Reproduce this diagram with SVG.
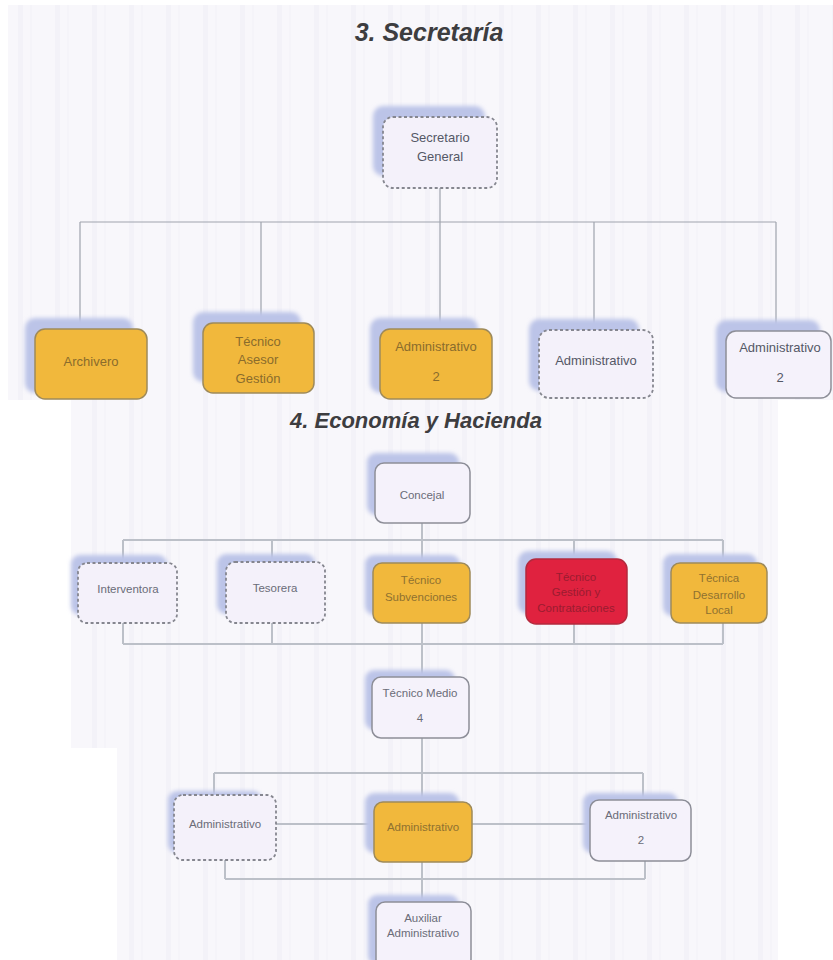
<svg xmlns="http://www.w3.org/2000/svg" width="833" height="960" viewBox="0 0 833 960">
<defs>
<pattern id="stripes" width="37" height="10" patternUnits="userSpaceOnUse">
<rect width="37" height="10" fill="#f8f7fb"/>
<rect x="18" width="5" height="10" fill="#f3f2f8"/>
<rect x="30" width="2" height="10" fill="#f5f4f9"/>
</pattern>
<filter id="blur" x="-20%" y="-20%" width="140%" height="140%">
<feGaussianBlur stdDeviation="2"/>
</filter>
<clipPath id="clipTop"><rect x="0" y="0" width="833" height="400"/></clipPath>
</defs>
<style>
.title{font-family:"Liberation Sans",Arial,sans-serif;font-weight:bold;font-style:italic;fill:#3d3d40;text-anchor:middle}
.shadow{fill:#bcc4e8;filter:url(#blur)}
.white{fill:#f5f2fb;stroke:#8d8e98;stroke-width:1.5}
.dash{fill:#f4f1fa;stroke:#85868f;stroke-width:1.8;stroke-dasharray:3 2.5}
.orange{fill:#f1b83c;stroke:#9e8a5a;stroke-width:1.5}
.red{fill:#e0223f;stroke:#b32a3e;stroke-width:1.5}
.t1{font-family:"Liberation Sans Narrow","Liberation Sans",Arial,sans-serif;font-size:13px;text-anchor:middle;fill:#545866}
.t1o{font-family:"Liberation Sans Narrow","Liberation Sans",Arial,sans-serif;font-size:13px;text-anchor:middle;fill:#8a6c2c}
.t2{font-family:"Liberation Sans Narrow","Liberation Sans",Arial,sans-serif;font-size:11.5px;text-anchor:middle;fill:#6a6c78}
.t2o{font-family:"Liberation Sans Narrow","Liberation Sans",Arial,sans-serif;font-size:11.5px;text-anchor:middle;fill:#8f7130}
.t2r{font-family:"Liberation Sans Narrow","Liberation Sans",Arial,sans-serif;font-size:11.5px;text-anchor:middle;fill:#9a1c30}
.c1{fill:none;stroke:#9fa3ad;stroke-width:1.2}
.c2{fill:none;stroke:#bcc0c8;stroke-width:2}
</style>
<rect width="833" height="960" fill="#ffffff"/>
<rect x="8" y="5" width="825" height="395" fill="url(#stripes)"/>
<path d="M71 400 H778 V960 H117 V748 H71 Z" fill="url(#stripes)"/>

<text class="title" x="429" y="41" font-size="25">3. Secretaría</text>
<text class="title" x="416" y="428" font-size="22">4. Economía y Hacienda</text>

<g id="connectors">
<path class="c1" d="M440 188 V222 M80 222 H776 M80 222 V329 M261 222 V323 M440 222 V329 M594 222 V330 M776 222 V331"/>
<path class="c2" d="M422 523 V540 M123 540 H723 M123 540 V563 M272 540 V562 M422 540 V563 M574 540 V559 M723 540 V563"/>
<path class="c2" d="M123 623 V644 M272 623 V644 M574 624 V644 M723 623 V644 M123 644 H723 M422 623 V677"/>
<path class="c2" d="M422 738 V802 M214 773 H643 M214 773 V795 M643 773 V800 M276 824 H374 M472 824 H590"/>
<path class="c2" d="M225 860 V879 M645 861 V879 M225 879 H645 M422 862 V902"/>
</g>

<g clip-path="url(#clipTop)">
<g id="secretario">
<rect class="shadow" x="373" y="106" width="112" height="70" rx="10"/>
<rect class="dash" x="383" y="117" width="114" height="71" rx="10"/>
<text class="t1" x="440" y="142">Secretario</text>
<text class="t1" x="440" y="161">General</text>
</g>
<g id="archivero">
<rect class="shadow" x="25" y="318" width="108" height="75" rx="10"/>
<rect class="orange" x="35" y="329" width="112" height="70" rx="10"/>
<text class="t1o" x="91" y="366">Archivero</text>
</g>
<g id="tecnico-asesor">
<rect class="shadow" x="193" y="312" width="108" height="70" rx="10"/>
<rect class="orange" x="203" y="323" width="111" height="70" rx="10"/>
<text class="t1o" x="258" y="346">Técnico</text>
<text class="t1o" x="258" y="364">Asesor</text>
<text class="t1o" x="258" y="383">Gestión</text>
</g>
<g id="admin-orange-top">
<rect class="shadow" x="370" y="318" width="108" height="75" rx="10"/>
<rect class="orange" x="380" y="329" width="112" height="70" rx="10"/>
<text class="t1o" x="436" y="351">Administrativo</text>
<text class="t1o" x="436" y="381">2</text>
</g>
<g id="admin-dash-top">
<rect class="shadow" x="529" y="319" width="110" height="72" rx="10"/>
<rect class="dash" x="539" y="330" width="114" height="68" rx="10"/>
<text class="t1" x="596" y="365">Administrativo</text>
</g>
<g id="admin-white-top">
<rect class="shadow" x="716" y="320" width="104" height="72" rx="10"/>
<rect class="white" x="726" y="331" width="105" height="67" rx="10"/>
<text class="t1" x="780" y="352">Administrativo</text>
<text class="t1" x="780" y="382">2</text>
</g>
</g>

<g id="concejal">
<rect class="shadow" x="367" y="453" width="92" height="62" rx="9"/>
<rect class="white" x="375" y="463" width="95" height="60" rx="9"/>
<text class="t2" x="422" y="499">Concejal</text>
</g>
<g id="interventora">
<rect class="shadow" x="71" y="555" width="96" height="60" rx="9"/>
<rect class="dash" x="78" y="563" width="99" height="60" rx="9"/>
<text class="t2" x="128" y="593">Interventora</text>
</g>
<g id="tesorera">
<rect class="shadow" x="217" y="554" width="98" height="60" rx="9"/>
<rect class="dash" x="226" y="562" width="99" height="61" rx="9"/>
<text class="t2" x="275" y="592">Tesorera</text>
</g>
<g id="tecnico-subvenciones">
<rect class="shadow" x="365" y="555" width="95" height="60" rx="9"/>
<rect class="orange" x="373" y="563" width="97" height="60" rx="9"/>
<text class="t2o" x="421" y="584">Técnico</text>
<text class="t2o" x="421" y="601">Subvenciones</text>
</g>
<g id="tecnico-red">
<rect class="shadow" x="518" y="551" width="99" height="63" rx="10"/>
<rect class="red" x="526" y="559" width="101" height="65" rx="10"/>
<text class="t2r" x="576" y="581">Técnico</text>
<text class="t2r" x="576" y="596">Gestión y</text>
<text class="t2r" x="576" y="612">Contrataciones</text>
</g>
<g id="tecnica-desarrollo">
<rect class="shadow" x="663" y="554" width="94" height="62" rx="9"/>
<rect class="orange" x="671" y="563" width="96" height="60" rx="9"/>
<text class="t2o" x="719" y="582">Técnica</text>
<text class="t2o" x="719" y="599">Desarrollo</text>
<text class="t2o" x="719" y="614">Local</text>
</g>
<g id="tecnico-medio">
<rect class="shadow" x="365" y="670" width="90" height="60" rx="9"/>
<rect class="white" x="372" y="677" width="97" height="61" rx="9"/>
<text class="t2" x="420" y="697">Técnico Medio</text>
<text class="t2" x="420" y="722">4</text>
</g>
<g id="admin-dash">
<rect class="shadow" x="168" y="791" width="94" height="62" rx="9"/>
<rect class="dash" x="174" y="795" width="102" height="65" rx="9"/>
<text class="t2" x="225" y="828">Administrativo</text>
</g>
<g id="admin-orange">
<rect class="shadow" x="365" y="793" width="94" height="60" rx="9"/>
<rect class="orange" x="374" y="802" width="98" height="60" rx="9"/>
<text class="t2o" x="423" y="831">Administrativo</text>
</g>
<g id="admin-2">
<rect class="shadow" x="583" y="793" width="95" height="60" rx="9"/>
<rect class="white" x="590" y="800" width="101" height="61" rx="9"/>
<text class="t2" x="641" y="819">Administrativo</text>
<text class="t2" x="641" y="844">2</text>
</g>
<g id="auxiliar">
<rect class="shadow" x="368" y="895" width="91" height="70" rx="9"/>
<rect class="white" x="376" y="902" width="95" height="66" rx="9"/>
<text class="t2" x="423" y="922">Auxiliar</text>
<text class="t2" x="423" y="937">Administrativo</text>
</g>
</svg>
